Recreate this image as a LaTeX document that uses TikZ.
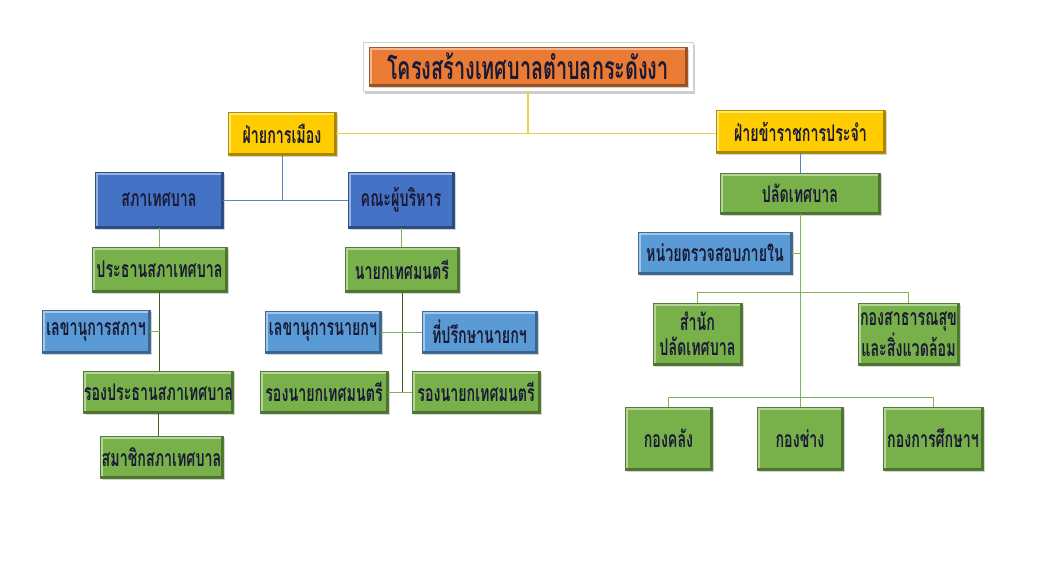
\documentclass[tikz,border=0pt]{standalone}
\usepackage{fontspec}
\newfontfamily\thaifont[Script=Thai,FakeStretch=0.62]{Loma}
\usetikzlibrary{shadows}
\definecolor{orangeC}{HTML}{E97B35}
\definecolor{yellowC}{HTML}{FFCC00}
\definecolor{blueC}{HTML}{4472C4}
\definecolor{lblueC}{HTML}{5B9BD5}
\definecolor{greenC}{HTML}{78B14A}
\definecolor{textC}{HTML}{1A1A36}
\definecolor{ylineC}{HTML}{F5C94A}
\definecolor{blineC}{HTML}{5A82C8}
\definecolor{glineC}{HTML}{7DB356}
\definecolor{dglineC}{HTML}{3F5E22}
\tikzset{
  bevel/.style={fill=#1, draw=#1!70!black, line width=0.8pt,
    drop shadow={opacity=0.35, shadow xshift=2pt, shadow yshift=-2pt},
    path picture={
      \draw[#1!55!white, line width=5pt]
        (path picture bounding box.south west) -- (path picture bounding box.north west)
        -- (path picture bounding box.north east);
      \draw[#1!65!black, line width=5pt]
        (path picture bounding box.north east) -- (path picture bounding box.south east)
        -- (path picture bounding box.south west);
    }},
  box/.style={rectangle, inner sep=0pt, align=center, text=textC,
    font=\thaifont\bfseries\fontsize{23}{25}\selectfont},
  ybox/.style={box, bevel=yellowC},
  bbox/.style={box, bevel=blueC},
  lbox/.style={box, bevel=lblueC},
  gbox/.style={box, bevel=greenC},
  ylink/.style={draw=ylineC, line width=1.2pt},
  blink/.style={draw=blineC, line width=1pt},
  glink/.style={draw=glineC, line width=1pt},
  dglink/.style={draw=dglineC, line width=1pt},
}
\begin{document}
\begin{tikzpicture}[x=1pt,y=-1pt]
\useasboundingbox (0,0) rectangle (1049,573);
% title
\node[rectangle, fill=white, draw=black!18, line width=0.8pt,
  drop shadow={opacity=0.4, shadow xshift=1.5pt, shadow yshift=-2.5pt},
  minimum width=330pt, minimum height=49pt] (titleframe) at (528,66.5) {};
\node[box, bevel=orangeC, drop shadow={opacity=0}, minimum width=318pt, minimum height=39pt,
  font=\thaifont\bfseries\fontsize{32}{34}\selectfont] (title) at (528,66.5) {โครงสร้างเทศบาลตำบลกระดังงา};
% level 1
\node[ybox, minimum width=108pt, minimum height=43pt] (pol) at (282,133.5) {ฝ่ายการเมือง};
\node[ybox, minimum width=169pt, minimum height=43pt] (civ) at (800.5,131.5) {ฝ่ายข้าราชการประจำ};
% left branch
\node[bbox, minimum width=128pt, minimum height=56pt] (council) at (159,200) {สภาเทศบาล};
\node[bbox, minimum width=106pt, minimum height=56pt] (exec) at (401,200) {คณะผู้บริหาร};
\node[gbox, minimum width=135pt, minimum height=45pt] (pres) at (159.5,269.5) {ประธานสภาเทศบาล};
\node[gbox, minimum width=114pt, minimum height=45pt] (mayor) at (402,269.5) {นายกเทศมนตรี};
\node[lbox, minimum width=108pt, minimum height=43pt] (sec) at (96,331.5) {เลขานุการสภาฯ};
\node[gbox, minimum width=147pt, minimum height=42pt] (vice) at (158.5,392) {รองประธานสภาเทศบาล};
\node[gbox, minimum width=123pt, minimum height=42pt] (member) at (161.5,457) {สมาชิกสภาเทศบาล};
\node[lbox, minimum width=116pt, minimum height=42pt] (secm) at (323,332) {เลขานุการนายกฯ};
\node[lbox, minimum width=115pt, minimum height=42pt] (adv) at (479.5,332) {ที่ปรึกษานายกฯ};
\node[gbox, minimum width=128pt, minimum height=42pt] (vm1) at (324,392) {รองนายกเทศมนตรี};
\node[gbox, minimum width=128pt, minimum height=42pt] (vm2) at (476,392) {รองนายกเทศมนตรี};
% right branch
\node[gbox, minimum width=160pt, minimum height=41pt] (perm) at (800,193.5) {ปลัดเทศบาล};
\node[lbox, minimum width=154pt, minimum height=42pt] (audit) at (715,253) {หน่วยตรวจสอบภายใน};
\node[gbox, minimum width=89pt, minimum height=62pt] (pal) at (697.5,334) {สำนัก\\ปลัดเทศบาล};
\node[gbox, minimum width=101pt, minimum height=62pt] (health) at (908.5,334) {กองสาธารณสุข\\และสิ่งแวดล้อม};
\node[gbox, minimum width=87pt, minimum height=63pt] (fin) at (668.5,438.5) {กองคลัง};
\node[gbox, minimum width=86pt, minimum height=63pt] (eng) at (800,438.5) {กองช่าง};
\node[gbox, minimum width=100pt, minimum height=63pt] (edu) at (933,438.5) {กองการศึกษาฯ};
% connectors
\path[ylink] (titleframe.south) -- (titleframe.south |- pol.east);
\path[ylink] (pol.east) -- (civ.west |- pol.east);
\path[blink] (pol.south) |- (council.east);
\path[blink] (pol.south) |- (exec.west);
\path[glink] (council.south) -- (council.south |- pres.north);
\path[dglink] (pres.south) -- (pres.south |- vice.north);
\path[glink] (sec.east) -- (sec.east -| pres.south);
\path[dglink] (vice.south) -- (vice.south |- member.north);
\path[glink] (exec.south) -- (exec.south |- mayor.north);
\coordinate (mj) at (mayor.south |- vm1.east);
\path[dglink] (mayor.south) -- (mj);
\path[glink] (secm.east) -- (adv.west);
\path[glink] (vm1.east) -- (vm2.west);
\path[blink] (civ.south) -- (civ.south |- perm.north);
\path[glink] (perm.south) -- (eng.north);
\path[glink] (audit.east) -- (audit.east -| perm.south);
\path[glink] (pal.north) -- ++(0,-10) -| (health.north);
\path[glink] (fin.north) -- ++(0,-9) -| (edu.north);
\end{tikzpicture}
\end{document}
